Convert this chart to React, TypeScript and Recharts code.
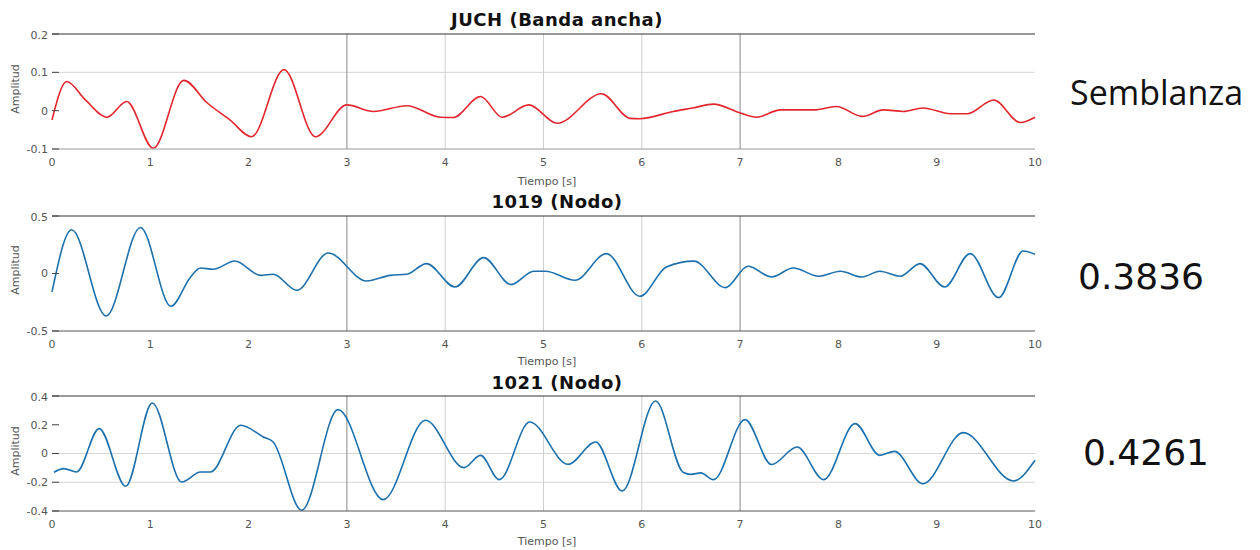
import { LineChart, Line, XAxis, YAxis, ReferenceLine } from "recharts";

// JUCH (Banda ancha) trace
const juchTime = [0, 0.15, 0.34, 0.56, 0.76, 1.03, 1.34, 1.58, 1.81, 2.03, 2.36, 2.68, 3.0, 3.27, 3.61, 3.95, 4.08, 4.36, 4.58, 4.85, 5.14, 5.59, 5.88, 5.98, 6.32, 6.52, 6.73, 7.0, 7.17, 7.41, 7.75, 7.98, 8.24, 8.46, 8.66, 8.86, 9.14, 9.31, 9.58, 9.85, 10];
const juchAmp = [-0.024, 0.076, 0.028, -0.017, 0.024, -0.098, 0.079, 0.02, -0.024, -0.068, 0.107, -0.068, 0.015, -0.002, 0.013, -0.017, -0.018, 0.037, -0.017, 0.015, -0.033, 0.044, -0.02, -0.021, -0.002, 0.007, 0.017, -0.006, -0.017, 0.002, 0.002, 0.011, -0.015, 0.002, -0.002, 0.007, -0.008, -0.008, 0.028, -0.031, -0.017];

// 1019 (Nodo) trace
const nodo1019Time = [0, 0.2, 0.55, 0.9, 1.21, 1.41, 1.51, 1.64, 1.86, 2.12, 2.25, 2.49, 2.81, 3.2, 3.44, 3.61, 3.81, 4.1, 4.39, 4.67, 4.9, 5.02, 5.32, 5.64, 5.98, 6.25, 6.53, 6.85, 7.08, 7.32, 7.54, 7.8, 8.02, 8.24, 8.42, 8.63, 8.83, 9.08, 9.34, 9.63, 9.88, 10];
const nodo1019Amp = [-0.16, 0.38, -0.37, 0.4, -0.285, -0.03, 0.048, 0.037, 0.109, -0.016, -0.007, -0.146, 0.178, -0.065, -0.016, -0.007, 0.086, -0.117, 0.138, -0.097, 0.02, 0.02, -0.059, 0.173, -0.198, 0.057, 0.108, -0.123, 0.063, -0.03, 0.048, -0.024, 0.019, -0.03, 0.019, -0.024, 0.086, -0.117, 0.173, -0.21, 0.196, 0.167];

// 1021 (Nodo) trace
const nodo1021Time = [0.02, 0.12, 0.25, 0.48, 0.75, 1.02, 1.32, 1.51, 1.61, 1.92, 2.15, 2.25, 2.54, 2.91, 3.37, 3.8, 4.19, 4.36, 4.55, 4.86, 5.25, 5.53, 5.8, 6.14, 6.42, 6.5, 6.6, 6.73, 7.05, 7.32, 7.58, 7.85, 8.17, 8.42, 8.57, 8.86, 9.27, 9.78, 10];
const nodo1021Amp = [-0.13, -0.105, -0.129, 0.173, -0.228, 0.351, -0.198, -0.129, -0.129, 0.196, 0.115, 0.08, -0.395, 0.305, -0.321, 0.231, -0.098, -0.013, -0.182, 0.219, -0.075, 0.08, -0.261, 0.365, -0.13, -0.145, -0.135, -0.182, 0.236, -0.077, 0.045, -0.182, 0.208, -0.013, 0.015, -0.21, 0.145, -0.191, -0.047];

const xTicks = [0, 1, 2, 3, 4, 5, 6, 7, 8, 9, 10];
const gridX = [3, 4, 5, 6, 7];

const semblanzas = ["0.3836", "0.4261"];

const tickStyle = { fill: "#555", fontSize: 11, fontFamily: "DejaVu Sans" };

interface PanelProps {
  time: number[];
  amp: number[];
  color: string;
  domain: [number, number];
  yTicks: number[];
  hGrid: number[];
  top: number;
  bottomStroke: string;
}

function Panel({ time, amp, color, domain, yTicks, hGrid, top, bottomStroke }: PanelProps) {
  const data = time.map((t, i) => ({ t, a: amp[i] }));
  return (
    <div style={{ position: "absolute", left: 0, top: top - 5 }}>
      <LineChart width={1050} height={145} data={data} margin={{ top: 5, right: 15, left: 0, bottom: 0 }}>
        <XAxis
          type="number"
          dataKey="t"
          domain={[0, 10]}
          ticks={xTicks}
          height={25}
          tickLine={false}
          tickSize={5}
          tickMargin={4}
          axisLine={{ stroke: bottomStroke }}
          tick={tickStyle}
        />
        <YAxis
          type="number"
          domain={domain}
          ticks={yTicks}
          width={52}
          axisLine={false}
          tickSize={-7}
          tickMargin={11}
          tickLine={{ stroke: "#444" }}
          tick={tickStyle}
        />
        {hGrid.map((y) => (
          <ReferenceLine key={"h" + y} y={y} stroke="#d6d6d6" />
        ))}
        {gridX.map((x) => (
          <ReferenceLine key={"v" + x} x={x} stroke={x === 3 || x === 7 ? "#8a8a8a" : "#cfcfcf"} />
        ))}
        <ReferenceLine y={domain[1]} stroke="#333" />
        <Line
          type="monotone"
          dataKey="a"
          stroke={color}
          strokeWidth={1.6}
          dot={false}
          isAnimationActive={false}
        />
      </LineChart>
    </div>
  );
}

const titleStyle: React.CSSProperties = {
  position: "absolute",
  left: 407,
  width: 300,
  textAlign: "center",
  fontFamily: "DejaVu Sans",
  fontWeight: "bold",
  fontSize: 18,
  letterSpacing: 0.5,
  lineHeight: "22px",
  color: "#111",
};

const xLabelStyle: React.CSSProperties = {
  position: "absolute",
  left: 447,
  width: 200,
  textAlign: "center",
  fontFamily: "DejaVu Sans",
  fontSize: 11,
  lineHeight: "14px",
  color: "#555",
};

function AmpLabel({ cy }: { cy: number }) {
  return (
    <div
      style={{
        position: "absolute",
        left: 15,
        top: cy,
        transform: "translate(-50%, -50%) rotate(-90deg)",
        fontFamily: "DejaVu Sans",
        fontSize: 11,
        color: "#555",
        whiteSpace: "nowrap",
      }}
    >
      Amplitud
    </div>
  );
}

export default function App() {
  return (
    <div style={{ position: "absolute", left: 0, top: 0, width: 1260, height: 550, background: "#fff", overflow: "hidden" }}>
      <div style={{ ...titleStyle, top: 9 }}>JUCH (Banda ancha)</div>
      <div style={{ ...titleStyle, top: 191 }}>1019 (Nodo)</div>
      <div style={{ ...titleStyle, top: 372 }}>1021 (Nodo)</div>

      <Panel time={juchTime} amp={juchAmp} color="#e3262d" domain={[-0.1, 0.2]} yTicks={[-0.1, 0, 0.1, 0.2]} hGrid={[0.1]} top={34} bottomStroke="#999" />
      <Panel time={nodo1019Time} amp={nodo1019Amp} color="#1c70ad" domain={[-0.5, 0.5]} yTicks={[-0.5, 0, 0.5]} hGrid={[]} top={216} bottomStroke="#555" />
      <Panel time={nodo1021Time} amp={nodo1021Amp} color="#1c70ad" domain={[-0.4, 0.4]} yTicks={[-0.4, -0.2, 0, 0.2, 0.4]} hGrid={[0, -0.2]} top={396} bottomStroke="#555" />

      <div style={{ ...xLabelStyle, top: 175 }}>Tiempo [s]</div>
      <div style={{ ...xLabelStyle, top: 355 }}>Tiempo [s]</div>
      <div style={{ ...xLabelStyle, top: 535 }}>Tiempo [s]</div>

      <AmpLabel cy={89} />
      <AmpLabel cy={270} />
      <AmpLabel cy={451} />

      <div style={{ position: "absolute", left: 1070, top: 70, fontFamily: "Open Sans", fontSize: 34, lineHeight: "44px", color: "#111" }}>
        Semblanza
      </div>
      <div style={{ position: "absolute", left: 1078, top: 255, fontFamily: "DejaVu Sans", fontSize: 36, lineHeight: "44px", color: "#111" }}>
        {semblanzas[0]}
      </div>
      <div style={{ position: "absolute", left: 1083, top: 431, fontFamily: "DejaVu Sans", fontSize: 36, lineHeight: "44px", color: "#111" }}>
        {semblanzas[1]}
      </div>
    </div>
  );
}
